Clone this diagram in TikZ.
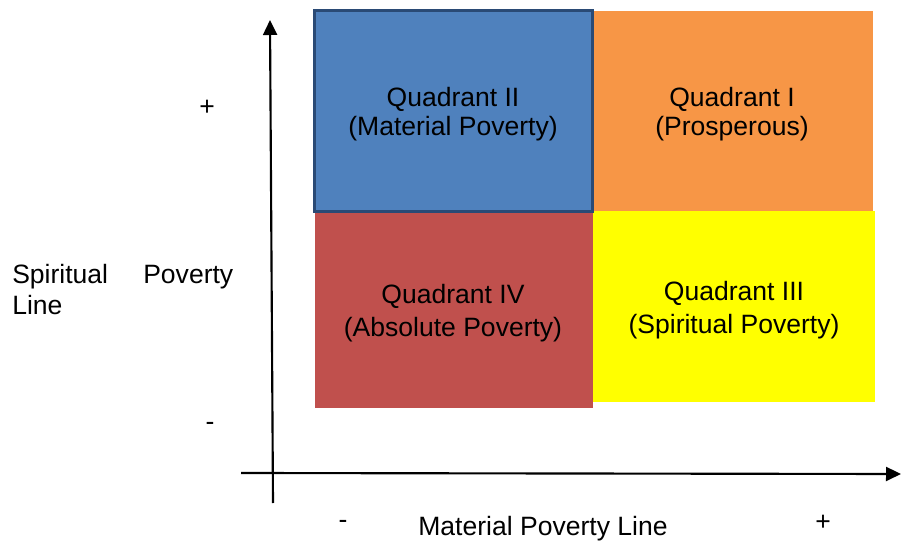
\documentclass[tikz,border=0pt]{standalone}
\usepackage{fontspec}
\setmainfont{Liberation Sans}
\usetikzlibrary{arrows.meta}
\definecolor{qblue}{HTML}{4F81BD}
\definecolor{qborder}{HTML}{2A4A75}
\definecolor{qorange}{HTML}{F79646}
\definecolor{qred}{HTML}{C0504D}
\definecolor{qyellow}{HTML}{FFFF00}
\tikzset{
  qtext/.style={align=center, inner sep=0pt, font=\fontsize{19.9}{21.75}\selectfont},
  qtextlow/.style={align=center, inner sep=0pt, font=\fontsize{19.9}{24.75}\selectfont},
  lbl/.style={inner sep=0pt, anchor=base, font=\fontsize{19.9}{23.5}\selectfont},
  axisline/.style={line width=1.6pt, -{Triangle[length=11.25pt,width=10.5pt]}}
}
\begin{document}
\begin{tikzpicture}[x=0.75pt,y=-0.75pt]
\useasboundingbox (0,0) rectangle (901,542);
% quadrant boxes
\fill[qorange] (591,11) rectangle (873,211);
\fill[qyellow] (593,211) rectangle (875,402);
\fill[qred] (315,212) rectangle (593,408);
\draw[qborder, fill=qblue, line width=2.25pt] (314.5,10.5) rectangle (592.5,211.5);
% quadrant texts
\node[qtext] (q2) at (453,113.9) {Quadrant II\\(Material Poverty)};
\node[qtext] (q1) at (732,113.9) {Quadrant I\\(Prosperous)};
\node[qtextlow] (q4) at (453,313) {Quadrant IV\\(Absolute Poverty)};
\node[qtextlow] (q3) at (734,310) {Quadrant III\\(Spiritual Poverty)};
% axes
\coordinate (yfrom) at (273,503);
\coordinate (yto) at (270,20);
\coordinate (xfrom) at (241,473);
\coordinate (xto) at (901,474);
\draw[axisline] (yfrom) -- (yto);
\draw[axisline] (xfrom) -- (xto);
% axis labels
\node[lbl] (yplus) at (207,116) {+};
\node[lbl] (yminus) at (210,430) {-};
\node[lbl] (xminus) at (343,528) {-};
\node[lbl] (xplus) at (823,530) {+};
\node[lbl] (xlabel) at (543,535.5) {Material Poverty Line};
\node[anchor=north west, inner sep=0pt, text width=165.75pt, align=justify,
      font={\fontsize{19.9}{23.5}\selectfont\tolerance=10000\hbadness=10000}]
      (ylabel) at (12,264) {Spiritual Poverty Line};
\end{tikzpicture}
\end{document}
